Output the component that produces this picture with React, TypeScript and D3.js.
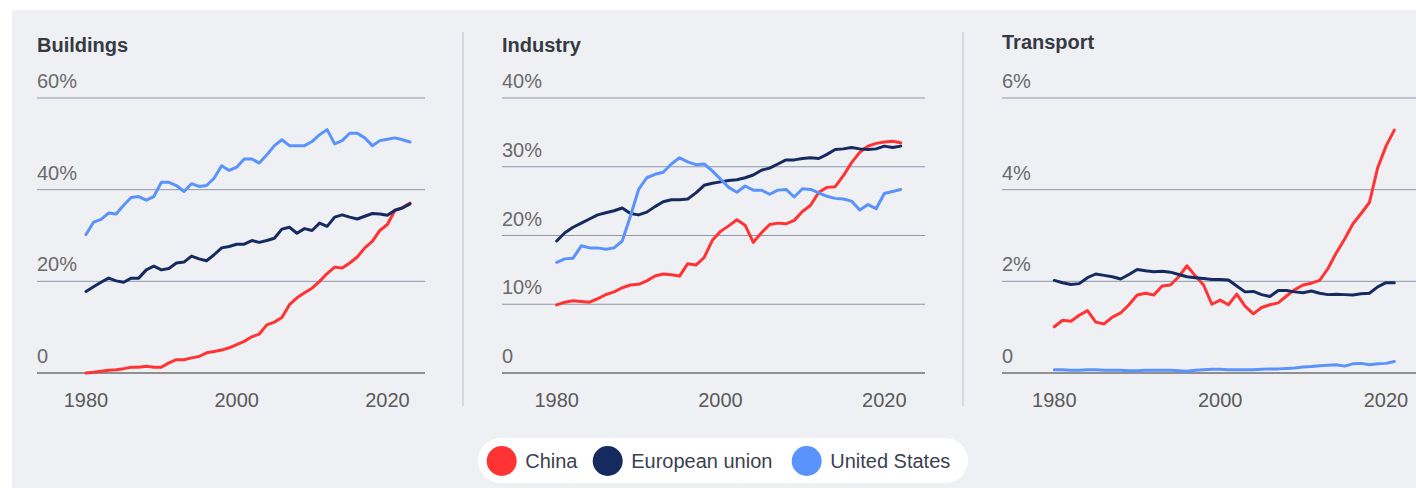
import React from "react";
import * as d3 from "d3";

const seriesNames = ["China", "European union", "United States"];
const seriesColors = ["#ff3333", "#152b5f", "#5b93fc"];

const buildingsChina = [0, 0.15, 0.36, 0.58, 0.73, 0.95, 1.24, 1.24, 1.45, 1.24, 1.24, 2.2, 2.9, 2.9, 3.3, 3.6, 4.4, 4.7, 5.0, 5.5, 6.2, 6.9, 7.9, 8.5, 10.5, 11.1, 12.1, 14.9, 16.4, 17.5, 18.5, 20.0, 21.7, 23.1, 22.9, 24.0, 25.3, 27.3, 28.7, 31.1, 32.4, 35.5, 36.1, 37.1];
const buildingsEU = [17.8, 18.8, 19.8, 20.7, 20.1, 19.8, 20.7, 20.7, 22.5, 23.3, 22.5, 22.8, 24.0, 24.2, 25.5, 24.9, 24.5, 25.8, 27.3, 27.6, 28.1, 28.1, 28.9, 28.5, 28.9, 29.4, 31.4, 31.8, 30.5, 31.5, 31.1, 32.7, 32.0, 34.0, 34.5, 34.0, 33.6, 34.2, 34.8, 34.7, 34.4, 35.5, 36.0, 36.9];
const buildingsUS = [30.2, 32.9, 33.5, 34.9, 34.7, 36.6, 38.3, 38.5, 37.7, 38.5, 41.6, 41.6, 40.9, 39.6, 41.3, 40.7, 40.9, 42.5, 45.2, 44.2, 44.9, 46.7, 46.7, 45.8, 47.6, 49.6, 50.9, 49.6, 49.6, 49.6, 50.5, 52.0, 53.1, 50.0, 50.7, 52.3, 52.3, 51.3, 49.6, 50.7, 51.0, 51.3, 50.9, 50.4];

const industryChina = [9.9, 10.3, 10.5, 10.4, 10.3, 10.8, 11.4, 11.8, 12.4, 12.8, 12.9, 13.4, 14.1, 14.4, 14.3, 14.1, 15.9, 15.7, 16.8, 19.3, 20.6, 21.4, 22.3, 21.5, 19.0, 20.4, 21.6, 21.8, 21.7, 22.2, 23.5, 24.4, 26.3, 27.0, 27.1, 28.7, 30.6, 32.1, 33.0, 33.4, 33.6, 33.7, 33.5];
const industryEU = [19.2, 20.4, 21.2, 21.8, 22.4, 23.0, 23.3, 23.6, 24.0, 23.2, 23.0, 23.4, 24.2, 24.9, 25.2, 25.2, 25.3, 26.2, 27.3, 27.6, 27.8, 28.0, 28.1, 28.4, 28.8, 29.5, 29.8, 30.4, 31.0, 31.0, 31.2, 31.3, 31.2, 31.8, 32.5, 32.6, 32.8, 32.6, 32.5, 32.6, 33.0, 32.8, 33.0];
const industryUS = [16.1, 16.6, 16.7, 18.5, 18.2, 18.2, 18.0, 18.2, 19.2, 22.8, 26.7, 28.4, 28.9, 29.2, 30.4, 31.3, 30.7, 30.3, 30.4, 29.4, 28.2, 27.0, 26.3, 27.2, 26.6, 26.6, 26.0, 26.6, 26.7, 25.6, 26.8, 26.7, 26.2, 25.7, 25.4, 25.3, 25.0, 23.7, 24.5, 23.9, 26.1, 26.4, 26.7];

const transportChina = [1.01, 1.15, 1.13, 1.26, 1.36, 1.11, 1.07, 1.22, 1.31, 1.49, 1.70, 1.74, 1.70, 1.90, 1.92, 2.10, 2.34, 2.12, 1.92, 1.50, 1.59, 1.49, 1.72, 1.46, 1.29, 1.43, 1.49, 1.53, 1.68, 1.82, 1.92, 1.96, 2.02, 2.28, 2.62, 2.92, 3.25, 3.48, 3.72, 4.48, 4.95, 5.30];
const transportEU = [2.02, 1.97, 1.93, 1.95, 2.08, 2.16, 2.13, 2.10, 2.05, 2.15, 2.26, 2.23, 2.21, 2.22, 2.20, 2.15, 2.10, 2.08, 2.06, 2.04, 2.04, 2.03, 1.90, 1.77, 1.78, 1.71, 1.67, 1.80, 1.80, 1.77, 1.75, 1.79, 1.74, 1.71, 1.72, 1.71, 1.70, 1.73, 1.74, 1.88, 1.97, 1.97];
const transportUS = [0.07, 0.07, 0.06, 0.06, 0.07, 0.07, 0.06, 0.06, 0.06, 0.05, 0.05, 0.06, 0.06, 0.06, 0.06, 0.05, 0.04, 0.06, 0.07, 0.08, 0.08, 0.07, 0.07, 0.07, 0.07, 0.08, 0.09, 0.09, 0.10, 0.11, 0.13, 0.14, 0.16, 0.17, 0.18, 0.15, 0.20, 0.21, 0.18, 0.20, 0.21, 0.25];

const xTickYears = [1980, 2000, 2020];
const buildingsTicks = [0, 20, 40, 60];
const industryTicks = [0, 10, 20, 30, 40];
const transportTicks = [0, 2, 4, 6];

const panels = [
  { title: "Buildings", series: [buildingsChina, buildingsEU, buildingsUS], ticks: buildingsTicks, max: 60, startYear: 1980 },
  { title: "Industry", series: [industryChina, industryEU, industryUS], ticks: industryTicks, max: 40, startYear: 1980 },
  { title: "Transport", series: [transportChina, transportEU, transportUS], ticks: transportTicks, max: 6, startYear: 1980 },
];

// layout (pixels)
const layouts = [
  { left: 37, right: 425, x0: 86, x1: 410, titleY: 52 },
  { left: 502, right: 925, x0: 556.7, x1: 900.7, titleY: 52 },
  { left: 1002, right: 1416, x0: 1054.3, x1: 1394.3, titleY: 49 },
];
const yTop = 98;
const yBottom = 373;
const FONT = "'Liberation Sans', Arial, Helvetica, sans-serif";

function Panel({ p, l }: { p: any; l: any }) {
  const n = p.series[0].length;
  const endYear = p.startYear + n - 1;
  const x = d3.scaleLinear().domain([p.startYear, endYear]).range([l.x0, l.x1]);
  const y = d3.scaleLinear().domain([0, p.max]).range([yBottom, yTop]);
  const line = d3
    .line<number>()
    .x((_, i) => x(p.startYear + i))
    .y((v) => y(v));
  const fmt = (t: number) => (t === 0 ? "0" : `${t}%`);
  return (
    <g>
      <text x={l.left} y={l.titleY} fontFamily={FONT} fontSize={20} fontWeight={600} fill="#363a42">
        {p.title}
      </text>
      {p.ticks.map((t: number) => (
        <g key={t}>
          <line
            x1={l.left}
            x2={l.right}
            y1={y(t)}
            y2={y(t)}
            stroke={t === 0 ? "#707070" : "#8e97ab"}
            strokeWidth={t === 0 ? 1.6 : 1}
          />
          <text x={l.left} y={y(t) - 10} fontFamily={FONT} fontSize={20} fill="#6a6a6a">
            {fmt(t)}
          </text>
        </g>
      ))}
      {xTickYears.map((yr) => (
        <text key={yr} x={x(yr)} y={407} textAnchor="middle" fontFamily={FONT} fontSize={20} fill="#5a5a5a">
          {yr}
        </text>
      ))}
      {p.series.map((s: number[], i: number) => (
        <path
          key={i}
          d={line(s) || ""}
          fill="none"
          stroke={seriesColors[i]}
          strokeWidth={3}
          strokeLinejoin="round"
          strokeLinecap="round"
        />
      ))}
    </g>
  );
}

export default function App() {
  const legendX = [501.7, 607.7, 806.7];
  return (
    <svg
      width={1416}
      height={488}
      style={{ position: "absolute", left: 0, top: 0, display: "block" }}
    >
      <rect x={0} y={0} width={1416} height={488} fill="#ffffff" />
      <rect x={12} y={10} width={1404} height={478} fill="#eff0f4" />
      <line x1={463} x2={463} y1={32} y2={406} stroke="#cdd0d8" strokeWidth={1.5} />
      <line x1={963} x2={963} y1={32} y2={406} stroke="#cdd0d8" strokeWidth={1.5} />
      {panels.map((p, i) => (
        <Panel key={p.title} p={p} l={layouts[i]} />
      ))}
      <rect x={478} y={438} width={490} height={45} rx={22.5} fill="#ffffff" />
      {seriesNames.map((name, i) => (
        <g key={name}>
          <circle cx={legendX[i]} cy={461} r={15} fill={seriesColors[i]} />
          <text x={legendX[i] + 23.5} y={468} fontFamily={FONT} fontSize={20} fill="#3c4150">
            {name}
          </text>
        </g>
      ))}
    </svg>
  );
}
